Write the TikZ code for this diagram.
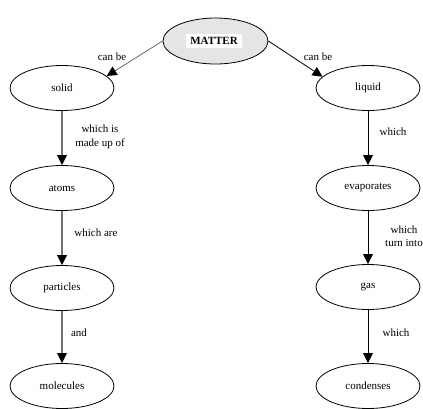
\documentclass[tikz,border=0pt]{standalone}
\usepackage{fontspec}
\setmainfont{Liberation Serif}
\usetikzlibrary{shapes.geometric,arrows.meta}
\begin{document}
\begin{tikzpicture}[x=1pt,y=-1pt,
  concept/.style={draw=black,line width=0.8pt,ellipse,minimum width=104pt,minimum height=45pt,inner sep=0pt,font=\fontsize{11}{12}\selectfont},
  lbl/.style={font=\fontsize{11}{13.5}\selectfont,align=center,inner sep=0pt},
  tip/.style={-{Triangle[length=10pt,width=10pt,color=black,line width=0pt]}},
  grayarr/.style={tip,draw=black!55,line width=1.6pt},
  blackarr/.style={tip,draw=black,line width=0.8pt}]
\useasboundingbox (0,0) rectangle (423,408);
\node[concept,fill=black!10,minimum width=105pt,minimum height=46pt] (M) at (215.5,41) {};
\node[fill=white,inner xsep=4pt,inner ysep=3pt,font=\fontsize{11}{12}\selectfont\bfseries] (Mt) at (214,41) {MATTER};
\node[concept] (solid) at (62,88) {solid};
\node[concept] (atoms) at (62,188) {atoms};
\node[concept] (particles) at (62,288) {particles};
\node[concept] (molecules) at (62,386) {molecules};
\node[concept] (liquid) at (368,88) {liquid};
\node[concept] (evap) at (368,188) {evaporates};
\node[concept] (gas) at (368,287) {gas};
\node[concept] (cond) at (368,386) {condenses};
\draw[tip,draw=black!65,line width=0.7pt] (M.west) -- (solid.15);
\draw[blackarr] (M.east) -- (liquid.166);
\draw[grayarr] (solid) -- (atoms);
\draw[grayarr] (atoms) -- (particles);
\draw[grayarr] (particles) -- (molecules);
\draw[blackarr] (liquid) -- (evap);
\draw[blackarr] (evap) -- (gas);
\draw[blackarr] (gas) -- (cond);
\node[lbl] (l1) at (112,57) {can be};
\node[lbl] (l2) at (318,57) {can be};
\node[lbl] (l3) at (100,137) {which is\\made up of};
\node[lbl] (l4) at (96,233) {which are};
\node[lbl] (l5) at (79,333) {and};
\node[lbl] (l6) at (393,132) {which};
\node[lbl] (l7) at (404,236) {which\\turn into};
\node[lbl] (l8) at (396,333) {which};
\end{tikzpicture}
\end{document}
